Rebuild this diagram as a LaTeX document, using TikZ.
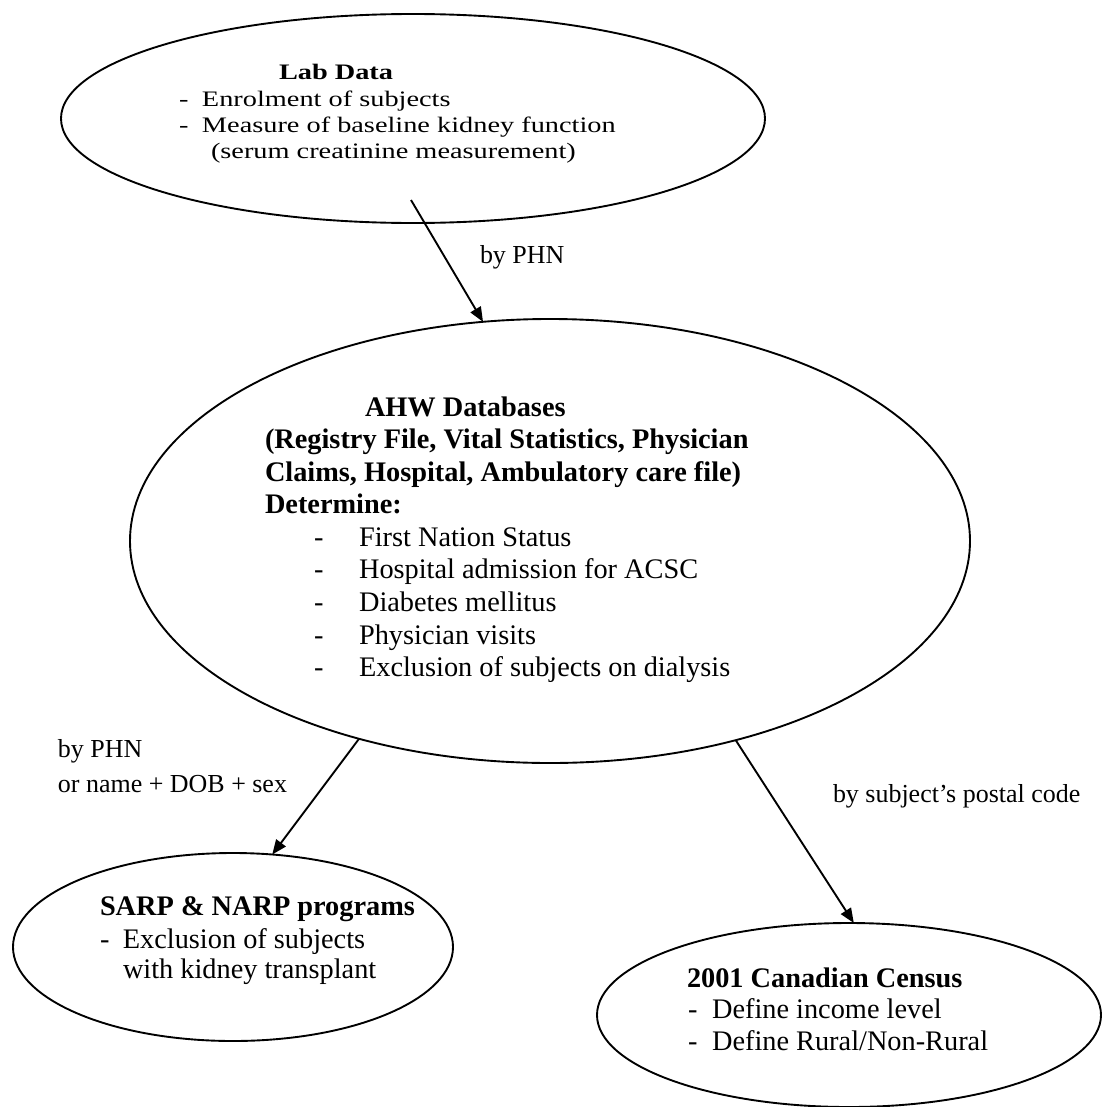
\documentclass[tikz,border=0pt]{standalone}
\usepackage{fontspec}
\usepackage{graphicx}
\setmainfont{Liberation Serif}
\usetikzlibrary{shapes.geometric,arrows.meta}
\newcommand{\sq}[1]{\scalebox{1}[0.78]{#1}}
\begin{document}
\begin{tikzpicture}[x=0.4237pt,y=-0.4237pt,
  oval/.style={draw,ellipse,line width=0.8pt,inner sep=0pt,outer sep=0pt},
  txt/.style={anchor=base west,inner sep=0pt,outer sep=0pt,font=\fontsize{12}{13.8}\selectfont},
  lbl/.style={anchor=base west,inner sep=0pt,outer sep=0pt,font=\fontsize{11}{12.65}\selectfont},
  conn/.style={line width=0.8pt,-{Triangle[length=6.2pt,width=5pt]}}]
\useasboundingbox (0,0) rectangle (1103,1107);
% ellipses
\node[oval,minimum width=704*0.4237pt,minimum height=209*0.4237pt] (lab) at (413,118.5) {};
\node[oval,minimum width=840*0.4237pt,minimum height=444*0.4237pt] (ahw) at (550,541) {};
\node[oval,minimum width=440*0.4237pt,minimum height=188*0.4237pt] (sarp) at (233,947) {};
\node[oval,minimum width=504*0.4237pt,minimum height=184*0.4237pt] (census) at (849,1015) {};
% Lab text
\node[txt] (labt) at (279,79) {\sq{\bfseries Lab Data}};
\node[txt] (lab1) at (179,106) {\sq{\makebox[9.75pt][l]{-}Enrolment of subjects}};
\node[txt] (lab2) at (179,132) {\sq{\makebox[9.75pt][l]{-}Measure of baseline kidney function}};
\node[txt] (lab3) at (211,158) {\sq{(serum creatinine measurement)}};
% AHW text
\node[txt] (ahwt) at (365,416) {\bfseries AHW Databases};
\node[txt] (ahw1) at (265,448) {\bfseries (Registry File, Vital Statistics, Physician};
\node[txt] (ahw2) at (265,481) {\bfseries Claims, Hospital, Ambulatory care file)};
\node[txt] (ahw3) at (265,513) {\bfseries Determine:};
\node[txt] (ahw4) at (314,546) {\makebox[19.1pt][l]{-}First Nation Status};
\node[txt] (ahw5) at (314,578) {\makebox[19.1pt][l]{-}Hospital admission for ACSC};
\node[txt] (ahw6) at (314,611) {\makebox[19.1pt][l]{-}Diabetes mellitus};
\node[txt] (ahw7) at (314,644) {\makebox[19.1pt][l]{-}Physician visits};
\node[txt] (ahw8) at (314,676) {\makebox[19.1pt][l]{-}Exclusion of subjects on dialysis};
% SARP text
\node[txt] (sarpt) at (100,915) {\bfseries SARP \& NARP programs};
\node[txt] (sarp1) at (100,948) {\makebox[9.7pt][l]{-}Exclusion of subjects};
\node[txt] (sarp2) at (123,978) {with kidney transplant};
% Census text
\node[txt] (censt) at (687,987) {\bfseries 2001 Canadian Census};
\node[txt] (cens1) at (688,1018) {\makebox[10.2pt][l]{-}Define income level};
\node[txt] (cens2) at (688,1050) {\makebox[10.2pt][l]{-}Define Rural/Non-Rural};
% connector labels
\node[lbl] (lbl1) at (480,263) {by PHN};
\node[lbl] (lbl2) at (58,757) {by PHN};
\node[lbl] (lbl3) at (58,792) {or name + DOB + sex};
\node[lbl] (lbl4) at (833,802) {by subject’s postal code};
% connectors
\coordinate (a1s) at (411,200);
\draw[conn] (a1s) -- (ahw.107.6);
\draw[conn] (ahw.226.5) -- (sarp.67.5);
\draw[conn] (ahw.313.8) -- (census.87.5);
\end{tikzpicture}
\end{document}
